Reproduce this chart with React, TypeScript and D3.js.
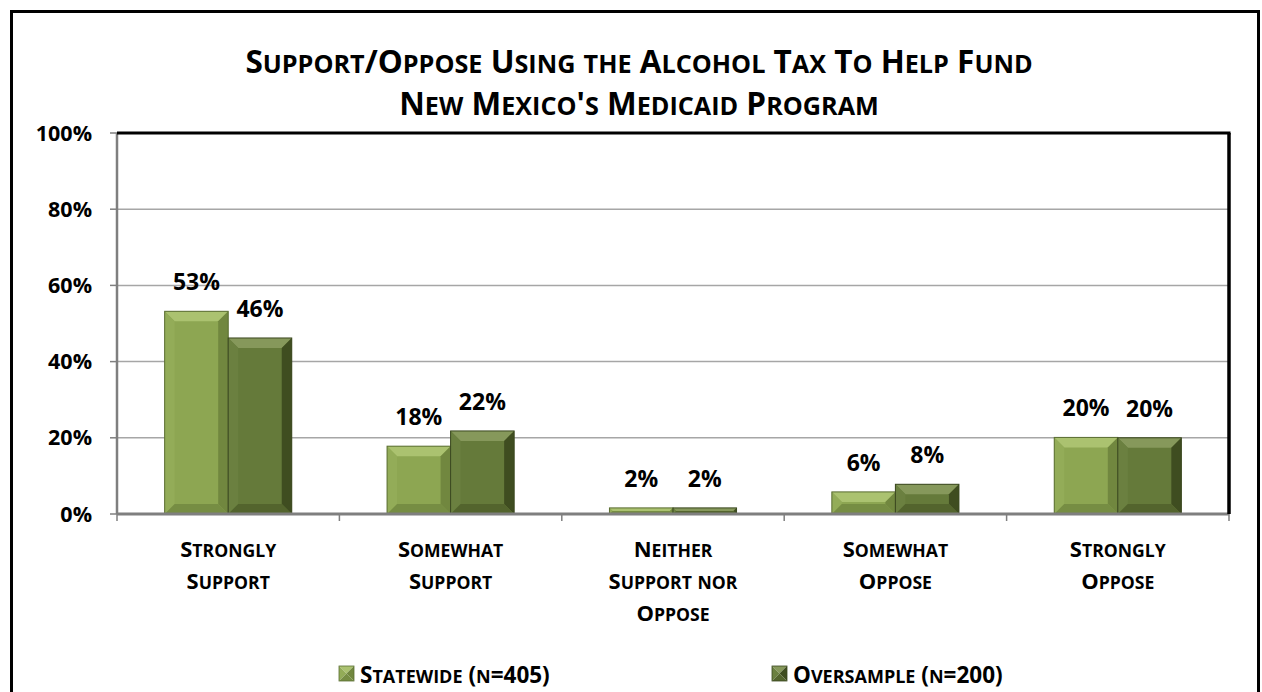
import React from 'react';
import * as d3 from 'd3';

const titleLines = ['Support/Oppose Using the Alcohol Tax To Help Fund', "New Mexico's Medicaid Program"];
const categories = ['Strongly Support', 'Somewhat Support', 'Neither Support nor Oppose', 'Somewhat Oppose', 'Strongly Oppose'];
const categoryLines = [['Strongly', 'Support'], ['Somewhat', 'Support'], ['Neither', 'Support nor', 'Oppose'], ['Somewhat', 'Oppose'], ['Strongly', 'Oppose']];
const seriesNames = ['Statewide (n=405)', 'Oversample (n=200)'];
const statewide = [53.2, 17.8, 1.6, 5.8, 20.1];
const oversample = [46.2, 21.8, 1.6, 7.8, 20.0];
const yTicks = [0, 20, 40, 60, 80, 100];

const palettes = [
  { body: '#8da652', top: '#abc270', left: '#93ac58', right: '#71873f', bottom: '#768d43', stroke: '#5b6e33' },
  { body: '#657a3a', top: '#86985b', left: '#6b8040', right: '#3f4d20', bottom: '#53642d', stroke: '#3b4820' },
];

const FONT = "'Open Sans', Lato, sans-serif";

const W = 1262;
const H = 692;
const margin = { left: 117, right: 1229, top: 133, bottom: 514 };

// fake small caps like Office does: lowercase letters become smaller capitals
function smallCaps(text: string, size: number) {
  const runs: { t: string; small: boolean }[] = [];
  for (const ch of text) {
    const small = ch !== ch.toUpperCase();
    const last = runs[runs.length - 1];
    if (last && last.small === small) last.t += ch;
    else runs.push({ t: ch, small });
  }
  return runs.map((r, i) => (
    <tspan key={i} fontSize={r.small ? size * 0.8 : size}>{r.small ? r.t.toUpperCase() : r.t}</tspan>
  ));
}

function bevelBar(x: number, y: number, w: number, h: number, p: typeof palettes[0], key: string) {
  const b = Math.min(10, w / 2, h / 2);
  const pts = (a: number[][]) => a.map(q => q.join(',')).join(' ');
  return (
    <g key={key}>
      <rect x={x} y={y} width={w} height={h} fill={p.body} />
      <polygon points={pts([[x, y], [x + w, y], [x + w - b, y + b], [x + b, y + b]])} fill={p.top} />
      <polygon points={pts([[x, y], [x + b, y + b], [x + b, y + h - b], [x, y + h]])} fill={p.left} />
      <polygon points={pts([[x + w, y], [x + w, y + h], [x + w - b, y + h - b], [x + w - b, y + b]])} fill={p.right} />
      <polygon points={pts([[x, y + h], [x + b, y + h - b], [x + w - b, y + h - b], [x + w, y + h]])} fill={p.bottom} />
      <rect x={x} y={y} width={w} height={h} fill="none" stroke={p.stroke} strokeWidth={1} />
    </g>
  );
}

const App: React.FC = () => {
  const x0 = d3.scaleBand<string>().domain(categories).range([margin.left, margin.right]).paddingInner(0).paddingOuter(0);
  const x1 = d3.scaleBand<string>().domain(seriesNames).range([0, x0.bandwidth()]).paddingInner(0).paddingOuter(0.75);
  const y = d3.scaleLinear().domain([0, 100]).range([margin.bottom, margin.top]);
  const series = [statewide, oversample];

  const boundaries = categories.map(c => x0(c)!).concat([margin.right]);

  return (
    <div style={{ position: 'fixed', left: 0, top: 0 }}>
      <svg width={W} height={H} style={{ display: 'block', background: '#fff' }} fontFamily={FONT}>
        <rect x={11.5} y={11.5} width={1247} height={720} fill="#fff" stroke="#000" strokeWidth={3} />

        {/* title */}
        {titleLines.map((t, i) => (
          <text key={t} x={639} y={73 + i * 42} textAnchor="middle" fontWeight="bold" fill="#000">
            {smallCaps(t, 31.5)}
          </text>
        ))}

        {/* gridlines */}
        {yTicks.filter(t => t > 0 && t < 100).map(t => (
          <line key={t} x1={margin.left} x2={margin.right} y1={y(t)} y2={y(t)} stroke="#a6a6a6" strokeWidth={1.5} />
        ))}

        {/* y axis */}
        <line x1={margin.left} x2={margin.left} y1={margin.top} y2={margin.bottom} stroke="#7f7f7f" strokeWidth={2.5} />
        {yTicks.map(t => (
          <g key={t}>
            <line x1={margin.left - 7} x2={margin.left} y1={y(t)} y2={y(t)} stroke="#7f7f7f" strokeWidth={1.5} />
            <text x={92} y={y(t) + 7.5} textAnchor="end" fontSize={21.5} fontWeight="bold">{d3.format('d')(t)}%</text>
          </g>
        ))}

        {/* bars */}
        {categories.map((c, ci) => series.map((s, si) => {
          const bx = x0(c)! + x1(seriesNames[si])!;
          const by = y(s[ci]);
          return bevelBar(bx, by, x1.bandwidth(), margin.bottom - by, palettes[si], `${ci}-${si}`);
        }))}

        {/* value labels */}
        {categories.map((c, ci) => series.map((s, si) => (
          <text key={`l${ci}-${si}`} x={x0(c)! + x1(seriesNames[si])! + x1.bandwidth() / 2} y={y(s[ci]) - 21}
            textAnchor="middle" fontSize={23} fontWeight="bold">{Math.round(s[ci])}%</text>
        )))}

        {/* x axis */}
        <line x1={margin.left} x2={margin.right} y1={margin.bottom} y2={margin.bottom} stroke="#7f7f7f" strokeWidth={3} />
        {boundaries.map((bx, i) => (
          <line key={i} x1={bx} x2={bx} y1={margin.bottom} y2={margin.bottom + 7} stroke="#7f7f7f" strokeWidth={1.5} />
        ))}
        {categories.map((c, ci) => (
          <g key={c}>
            {categoryLines[ci].map((ln, li) => (
              <text key={li} x={x0(c)! + x0.bandwidth() / 2} y={557 + li * 32} textAnchor="middle" fontWeight="bold">
                {smallCaps(ln, 22)}
              </text>
            ))}
          </g>
        ))}

        {/* plot frame top/right */}
        <line x1={margin.left} x2={margin.right + 1.5} y1={margin.top} y2={margin.top} stroke="#000" strokeWidth={3} />
        <line x1={margin.right} x2={margin.right} y1={margin.top} y2={margin.bottom} stroke="#000" strokeWidth={3.5} />

        {/* legend */}
        {seriesNames.map((n, i) => {
          const lx = [339, 772][i];
          const p = palettes[i];
          const s = 15, ly = 666, h = s / 2;
          const cx = lx + h, cy = ly + h;
          return (
            <g key={n}>
              <polygon points={`${lx},${ly} ${lx + s},${ly} ${cx},${cy}`} fill={p.top} />
              <polygon points={`${lx},${ly} ${lx},${ly + s} ${cx},${cy}`} fill={p.left} />
              <polygon points={`${lx + s},${ly} ${lx + s},${ly + s} ${cx},${cy}`} fill={p.right} />
              <polygon points={`${lx},${ly + s} ${lx + s},${ly + s} ${cx},${cy}`} fill={p.bottom} />
              <rect x={lx} y={ly} width={s} height={s} fill="none" stroke={p.stroke} strokeWidth={0.8} />
              <text x={lx + 21} y={683} fontWeight="bold">{smallCaps(n, 22.5)}</text>
            </g>
          );
        })}
      </svg>
    </div>
  );
};

export default App;
